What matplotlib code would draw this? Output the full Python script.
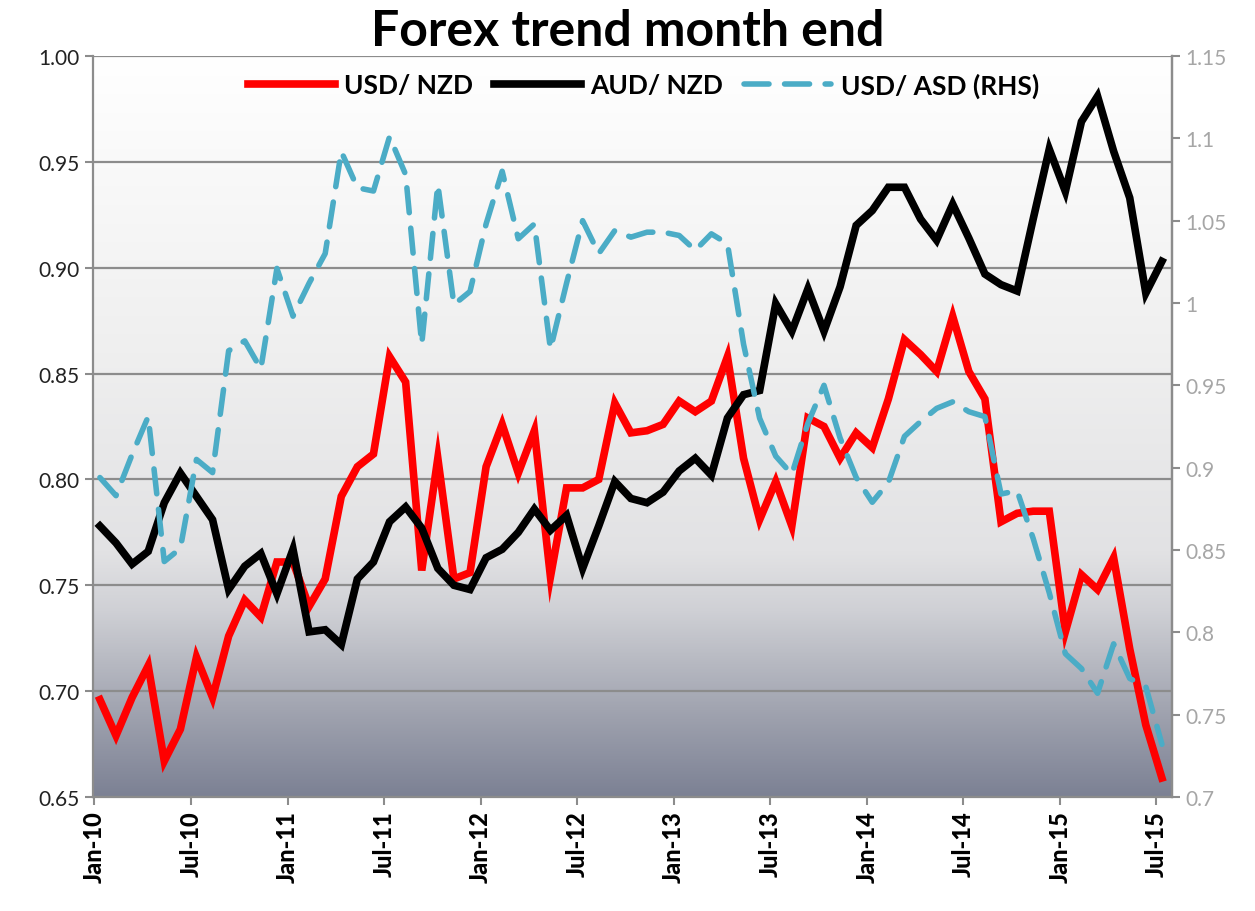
import matplotlib
matplotlib.use("Agg")
import matplotlib.pyplot as plt
import numpy as np
from matplotlib.colors import LinearSegmentedColormap

tick_labels = ["Jan-10", "Jul-10", "Jan-11", "Jul-11", "Jan-12", "Jul-12",
               "Jan-13", "Jul-13", "Jan-14", "Jul-14", "Jan-15", "Jul-15"]

usd_nzd = [0.696, 0.679, 0.697, 0.712, 0.667, 0.682, 0.716, 0.697, 0.726, 0.743,
           0.735, 0.761, 0.761, 0.740, 0.753, 0.792, 0.806, 0.812, 0.858, 0.846,
           0.757, 0.810, 0.753, 0.756, 0.806, 0.826, 0.803, 0.823, 0.754, 0.796,
           0.796, 0.800, 0.836, 0.822, 0.823, 0.826, 0.837, 0.832, 0.837, 0.858,
           0.810, 0.781, 0.799, 0.778, 0.829, 0.825, 0.810, 0.822, 0.815, 0.838,
           0.866, 0.859, 0.851, 0.877, 0.851, 0.838, 0.780, 0.784, 0.785, 0.785,
           0.728, 0.755, 0.748, 0.763, 0.720, 0.684, 0.659]

aud_nzd = [0.778, 0.770, 0.760, 0.766, 0.789, 0.803, 0.792, 0.781, 0.748, 0.759,
           0.765, 0.746, 0.767, 0.728, 0.729, 0.722, 0.753, 0.761, 0.780, 0.787,
           0.777, 0.758, 0.750, 0.748, 0.763, 0.767, 0.775, 0.786, 0.776, 0.783,
           0.758, 0.778, 0.799, 0.791, 0.789, 0.794, 0.804, 0.810, 0.802, 0.829,
           0.840, 0.842, 0.883, 0.870, 0.890, 0.870, 0.891, 0.920, 0.927, 0.938,
           0.938, 0.923, 0.913, 0.930, 0.914, 0.897, 0.892, 0.889, 0.923, 0.956,
           0.936, 0.969, 0.981, 0.955, 0.933, 0.888, 0.903]

usd_asd = [0.894, 0.883, 0.908, 0.931, 0.843, 0.851, 0.905, 0.897, 0.971, 0.977,
           0.960, 1.021, 0.992, 1.012, 1.030, 1.092, 1.070, 1.068, 1.101, 1.078,
           0.975, 1.072, 0.999, 1.007, 1.048, 1.080, 1.039, 1.048, 0.972, 1.012,
           1.050, 1.030, 1.044, 1.040, 1.043, 1.043, 1.041, 1.032, 1.042, 1.036,
           0.975, 0.930, 0.907, 0.896, 0.927, 0.950, 0.918, 0.894, 0.879, 0.891,
           0.919, 0.928, 0.936, 0.940, 0.934, 0.931, 0.884, 0.886, 0.857, 0.824,
           0.787, 0.778, 0.763, 0.793, 0.772, 0.767, 0.732]

months = np.arange(len(usd_nzd))

plt.rcParams['font.family'] = ['Lato', 'DejaVu Sans']

fig = plt.figure(figsize=(12.55, 9.12), dpi=100)
ax = fig.add_axes([0.0741, 0.125, 0.8598, 0.8125])

# gradient background
cmap = LinearSegmentedColormap.from_list(
    "bg", [(0.0, "#7c8194"), (0.12, "#a2a5b1"), (0.25, "#cfd0d5"),
           (0.33, "#e2e2e4"), (0.6, "#efefef"), (1.0, "#ffffff")])
grad = np.linspace(0, 1, 256).reshape(-1, 1)
ax.imshow(grad, aspect="auto", cmap=cmap, origin="lower",
          extent=[0, 1, 0, 1], transform=ax.transAxes, zorder=0)

ax.set_xlim(-0.43, 66.63)
ax.set_ylim(0.65, 1.00)
yt = np.round(np.arange(0.65, 1.0001, 0.05), 2)
ax.set_yticks(yt)
ax.set_yticklabels([f"{v:.2f}" for v in yt], fontsize=15, color="#222222")
ax.yaxis.grid(True, color="#8c8c8c", linewidth=1.6, zorder=1)
ax.set_axisbelow(True)

xt = np.arange(0, 67, 6) - 0.34
ax.set_xticks(xt)
ax.set_xticklabels(tick_labels, rotation=90, fontsize=17, fontweight="black")

ax.spines["top"].set_visible(False)
for s in ["left", "right", "bottom"]:
    ax.spines[s].set_color("#8c8c8c")
    ax.spines[s].set_linewidth(1.6)
ax.tick_params(axis="both", direction="out", color="#8c8c8c", width=1.5, length=6)

l1, = ax.plot(months, usd_nzd, color="#ff0000", linewidth=5.5, label="USD/ NZD",
              solid_joinstyle="miter", zorder=3)
l2, = ax.plot(months, aud_nzd, color="#000000", linewidth=5.5, label="AUD/ NZD",
              solid_joinstyle="miter", zorder=3)

ax2 = ax.twinx()
ax2.set_ylim(0.70, 1.15)
rt = np.round(np.arange(0.70, 1.1501, 0.05), 2)
ax2.set_yticks(rt)
ax2.set_yticklabels([f"{v:g}" for v in rt], fontsize=15, color="#a6a6a6")
ax2.tick_params(axis="y", direction="out", color="#8c8c8c", width=1.5, length=6)
for s in ["top", "left", "bottom"]:
    ax2.spines[s].set_visible(False)
ax2.spines["right"].set_color("#8c8c8c")
ax2.spines["right"].set_linewidth(1.6)
l3, = ax2.plot(months, usd_asd, color="#4bacc6", linewidth=4.0, label="USD/ ASD (RHS)",
               linestyle=(0, (4.5, 2.8)), dash_capstyle="round", zorder=4)

ax2.legend(handles=[l1, l2, l3], loc="upper center", bbox_to_anchor=(0.51, 1.01),
           ncol=3, frameon=False, handlelength=3.3, columnspacing=0.8,
           handletextpad=0.35, prop={"weight": "bold", "size": 19})

fig.text(0.5, 0.965, "Forex trend month end", ha="center", va="center",
         fontsize=36, fontweight="bold")

fig.savefig("out.png", dpi=100)
